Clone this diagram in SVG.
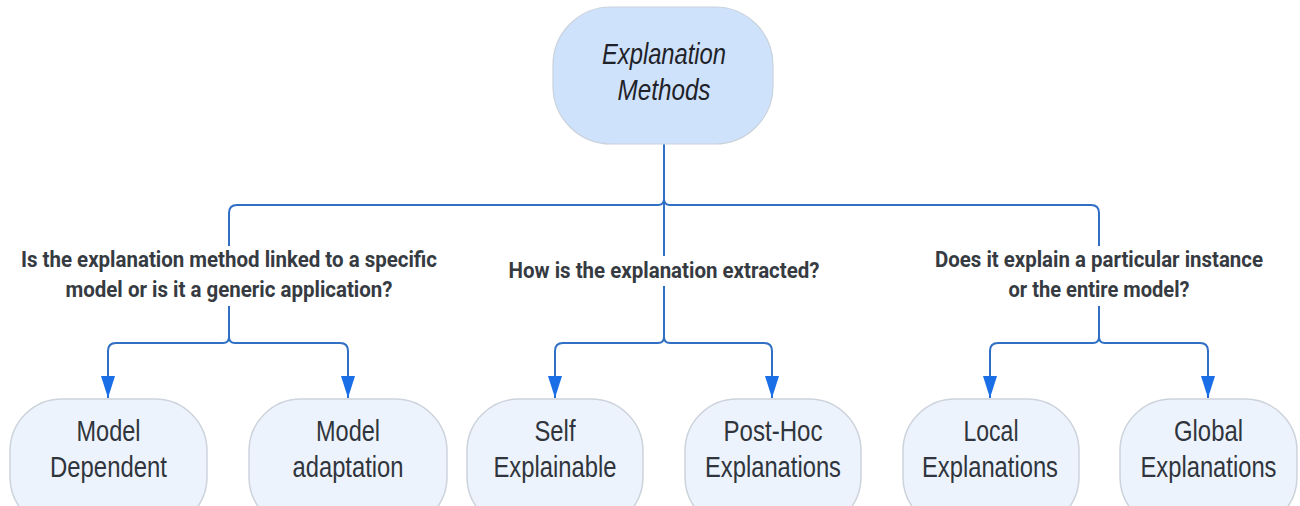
<svg xmlns="http://www.w3.org/2000/svg" width="1300" height="506" viewBox="0 0 1300 506">
  <style>
    .root rect { fill: #cfe2fb; stroke: #c9d2dd; stroke-width: 1.2; }
    .leaf rect { fill: #edf3fc; stroke: #cdd3db; stroke-width: 1.5; }
    .root text { font-family: "Liberation Sans", Arial, sans-serif; font-style: italic; font-size: 29px; fill: #1f2329; text-anchor: middle; }
    .leaf text { font-family: "Liberation Sans", Arial, sans-serif; font-size: 29px; fill: #30353d; text-anchor: middle; }
    .q rect { fill: #ffffff; }
    .q text { font-family: Roboto, "Liberation Sans", sans-serif; font-weight: bold; font-size: 22px; fill: #363b42; text-anchor: middle; }
    .link { fill: none; stroke: #2f6fc4; stroke-width: 2; }
  </style>
  <defs>
    <marker id="arrow" markerUnits="userSpaceOnUse" markerWidth="22" markerHeight="14" viewBox="0 0 22 14" refX="22" refY="7" orient="auto">
      <path d="M0,0 L22,7 L0,14 z" fill="#1a6ee6"/>
    </marker>
  </defs>

  <rect width="1300" height="506" fill="#ffffff"/>

  <!-- connectors -->
  <g id="connectors">
    <path class="link" d="M664,144 V199 Q664,205 658,205 H237 Q229,205 229,213 V337"/>
    <path class="link" d="M664,144 V199 Q664,205 670,205 H1091 Q1099,205 1099,213 V337"/>
    <path class="link" d="M664,144 V337"/>

    <path class="link" marker-end="url(#arrow)" d="M229,337 Q229,343 223,343 H116 Q108,343 108,351 V398"/>
    <path class="link" marker-end="url(#arrow)" d="M229,337 Q229,343 235,343 H340 Q348,343 348,351 V398"/>

    <path class="link" marker-end="url(#arrow)" d="M664,337 Q664,343 658,343 H563 Q555,343 555,351 V398"/>
    <path class="link" marker-end="url(#arrow)" d="M664,337 Q664,343 670,343 H764 Q772,343 772,351 V398"/>

    <path class="link" marker-end="url(#arrow)" d="M1099,337 Q1099,343 1093,343 H998 Q990,343 990,351 V398"/>
    <path class="link" marker-end="url(#arrow)" d="M1099,337 Q1099,343 1105,343 H1200 Q1208,343 1208,351 V398"/>
  </g>

  <!-- question labels on the branches -->
  <g id="q-model" class="q">
    <rect x="16" y="246" width="426" height="60"/>
    <text x="229" y="267" textLength="416" lengthAdjust="spacingAndGlyphs">Is the explanation method linked to a specific</text>
    <text x="229" y="297" textLength="327" lengthAdjust="spacingAndGlyphs">model or is it a generic application?</text>
  </g>
  <g id="q-extract" class="q">
    <rect x="504" y="256" width="320" height="30"/>
    <text x="664" y="278" textLength="311" lengthAdjust="spacingAndGlyphs">How is the explanation extracted?</text>
  </g>
  <g id="q-scope" class="q">
    <rect x="930" y="246" width="338" height="60"/>
    <text x="1099" y="267" textLength="328" lengthAdjust="spacingAndGlyphs">Does it explain a particular instance</text>
    <text x="1099" y="297" textLength="181" lengthAdjust="spacingAndGlyphs">or the entire model?</text>
  </g>

  <!-- root -->
  <g id="explanation-methods" class="root">
    <rect x="553" y="7" width="220" height="137" rx="58" ry="58"/>
    <text x="664" y="64" textLength="124" lengthAdjust="spacingAndGlyphs">Explanation</text>
    <text x="664" y="100" textLength="93" lengthAdjust="spacingAndGlyphs">Methods</text>
  </g>

  <!-- leaves -->
  <g id="model-dependent" class="leaf">
    <rect x="10" y="399" width="197" height="130" rx="52" ry="52"/>
    <text x="108.5" y="441" textLength="64" lengthAdjust="spacingAndGlyphs">Model</text>
    <text x="108.5" y="477" textLength="117" lengthAdjust="spacingAndGlyphs">Dependent</text>
  </g>
  <g id="model-adaptation" class="leaf">
    <rect x="249" y="399" width="198" height="130" rx="52" ry="52"/>
    <text x="348" y="441" textLength="64" lengthAdjust="spacingAndGlyphs">Model</text>
    <text x="348" y="477" textLength="111" lengthAdjust="spacingAndGlyphs">adaptation</text>
  </g>
  <g id="self-explainable" class="leaf">
    <rect x="467" y="399" width="176" height="130" rx="52" ry="52"/>
    <text x="555" y="441" textLength="41" lengthAdjust="spacingAndGlyphs">Self</text>
    <text x="555" y="477" textLength="123" lengthAdjust="spacingAndGlyphs">Explainable</text>
  </g>
  <g id="post-hoc" class="leaf">
    <rect x="685" y="399" width="176" height="130" rx="52" ry="52"/>
    <text x="773" y="441" textLength="99" lengthAdjust="spacingAndGlyphs">Post-Hoc</text>
    <text x="773" y="477" textLength="136" lengthAdjust="spacingAndGlyphs">Explanations</text>
  </g>
  <g id="local" class="leaf">
    <rect x="903" y="399" width="176" height="130" rx="52" ry="52"/>
    <text x="991" y="441" textLength="55" lengthAdjust="spacingAndGlyphs">Local</text>
    <text x="990" y="477" textLength="136" lengthAdjust="spacingAndGlyphs">Explanations</text>
  </g>
  <g id="global" class="leaf">
    <rect x="1120" y="399" width="177" height="130" rx="52" ry="52"/>
    <text x="1208.5" y="441" textLength="69" lengthAdjust="spacingAndGlyphs">Global</text>
    <text x="1208.5" y="477" textLength="136" lengthAdjust="spacingAndGlyphs">Explanations</text>
  </g>
</svg>
